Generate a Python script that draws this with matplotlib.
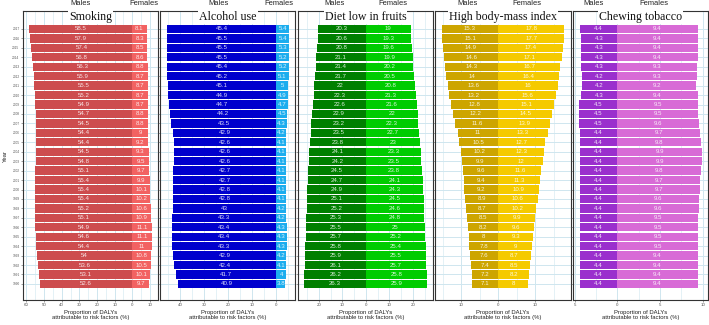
import numpy as np
import matplotlib
matplotlib.use('Agg')
import matplotlib.pyplot as plt

# ===== DATA (2017 -> 1990) =====
years = list(range(2017, 1989, -1))

panel_titles = ['Smoking', 'Alcohol use', 'Diet low in fruits',
                'High body-mass index', 'Chewing tobacco']

smoking_m = [58.5, 57.9, 57.4, 56.8, 56.3, 55.9, 55.5, 55.2, 54.9, 54.7,
             54.5, 54.4, 54.4, 54.5, 54.8, 55.1, 55.4, 55.4, 55.4, 55.2,
             55.1, 54.9, 54.6, 54.4, 54, 53.6, 53.1, 52.6]
smoking_f = [8.1, 8.3, 8.5, 8.6, 8.8, 8.7, 8.7, 8.7, 8.7, 8.8,
             8.8, 9, 9.2, 9.3, 9.5, 9.7, 9.9, 10.1, 10.2, 10.6,
             10.9, 11.1, 11.1, 11, 10.8, 10.5, 10.1, 9.7]

alcohol_m = [45.4, 45.5, 45.5, 45.5, 45.4, 45.2, 45.1, 44.9, 44.7, 44.2,
             43.5, 42.9, 42.6, 42.6, 42.6, 42.7, 42.7, 42.8, 42.8, 43,
             43.3, 43.4, 43.4, 43.3, 42.9, 42.4, 41.7, 40.9]
alcohol_f = [5.4, 5.4, 5.3, 5.2, 5.2, 5.1, 5, 4.9, 4.7, 4.5,
             4.3, 4.2, 4.1, 4.1, 4.1, 4.1, 4.1, 4.1, 4.1, 4.2,
             4.2, 4.3, 4.3, 4.3, 4.2, 4.1, 4, 3.8]

fruits_m = [20.3, 20.6, 20.8, 21.1, 21.4, 21.7, 22, 22.3, 22.6, 22.9,
            23.2, 23.5, 23.8, 24.1, 24.2, 24.5, 24.7, 24.9, 25.1, 25.2,
            25.3, 25.5, 25.7, 25.8, 25.9, 26.1, 26.2, 26.3]
fruits_f = [19, 19.3, 19.6, 19.9, 20.2, 20.5, 20.8, 21.3, 21.6, 22,
            22.3, 22.7, 23, 23.3, 23.5, 23.8, 24.1, 24.3, 24.5, 24.6,
            24.8, 25, 25.2, 25.4, 25.5, 25.7, 25.8, 25.9]

bmi_m = [15.3, 15.1, 14.9, 14.6, 14.3, 14, 13.6, 13.2, 12.8, 12.2,
         11.6, 11, 10.5, 10.2, 9.9, 9.6, 9.4, 9.2, 8.9, 8.7,
         8.5, 8.2, 8, 7.8, 7.6, 7.4, 7.2, 7.1]
bmi_f = [17.8, 17.7, 17.4, 17.1, 16.7, 16.4, 16, 15.6, 15.1, 14.5,
         13.9, 13.3, 12.7, 12.3, 12, 11.6, 11.3, 10.9, 10.6, 10.2,
         9.9, 9.6, 9.3, 9, 8.7, 8.5, 8.2, 8]

chewing_m = [4.4, 4.3, 4.3, 4.3, 4.3, 4.2, 4.2, 4.3, 4.5, 4.5,
             4.5, 4.4, 4.4, 4.4, 4.4, 4.4, 4.4, 4.4, 4.4, 4.4,
             4.4, 4.4, 4.4, 4.4, 4.4, 4.4, 4.4, 4.4]
chewing_f = [9.4, 9.4, 9.4, 9.4, 9.3, 9.3, 9.2, 9.4, 9.5, 9.5,
             9.6, 9.7, 9.8, 9.9, 9.9, 9.8, 9.7, 9.7, 9.6, 9.6,
             9.5, 9.5, 9.5, 9.5, 9.4, 9.4, 9.4, 9.4]

males = [smoking_m, alcohol_m, fruits_m, bmi_m, chewing_m]
females = [smoking_f, alcohol_f, fruits_f, bmi_f, chewing_f]

# ===== STYLE =====
male_cols = ['#CD4C4E', '#0000CD', '#007F00', '#CDA500', '#9A2FCD']
female_cols = ['#F26262', '#1CADEE', '#00CC00', '#F5CA00', '#D86BD6']
tick_steps = [10, 10, 10, 10, 5]
header_pos = [(0.425, 0.896), (0.43, 0.88), (0.27, 0.70),
              (0.235, 0.68), (0.15, 0.60)]

grid_col = '#CFE6EF'
plt.rcParams['font.family'] = ['Liberation Sans', 'DejaVu Sans']

fig, axes = plt.subplots(1, 5, figsize=(7.09, 3.25), dpi=100, sharey=True)
fig.subplots_adjust(left=0.0324, right=0.9986, bottom=0.077, top=0.966,
                    wspace=0.0185)

yrs = np.array(years)
for i, ax in enumerate(axes):
    m = np.array(males[i])
    f = np.array(females[i])
    lo, hi = -m.max(), f.max()
    pad = 0.05 * (hi - lo)
    ax.set_xlim(lo - pad, hi + pad)
    ax.set_ylim(1988.3, 2018.9)

    # ticks / grid
    step = tick_steps[i]
    major = np.arange(np.ceil((lo - pad) / step) * step, hi + pad, step)
    minor = np.arange(major[0] - step / 2, hi + pad, step)
    minor = minor[(minor > lo - pad) & (minor < hi + pad)]
    ax.set_xticks(major)
    ax.set_xticklabels([f'{abs(v):g}' for v in major])
    for v in minor:
        ax.axvline(v, color=grid_col, lw=0.4, zorder=0)
    for v in major:
        ax.axvline(v, color=grid_col, lw=0.7, zorder=0)
    for y in yrs:
        ax.axhline(y, color=grid_col, lw=0.7, zorder=0)

    # bars + labels
    ax.barh(yrs, -m, height=0.88, color=male_cols[i], zorder=2)
    ax.barh(yrs, f, height=0.88, color=female_cols[i], zorder=2)
    for y, mv, fv in zip(yrs, m, f):
        ax.text(-mv / 2, y, f'{mv:g}', ha='center', va='center',
                fontsize=4.4, color='white', alpha=0.85, zorder=3)
        ax.text(fv / 2, y, f'{fv:g}', ha='center', va='center',
                fontsize=4.4, color='white', alpha=0.85, zorder=3)

    # panel title inside the plot
    ax.text(sum(ax.get_xlim()) / 2, 2018.25, panel_titles[i],
            ha='center', va='center', family='Liberation Serif',
            fontsize=8.6, color='#111111', zorder=4,
            bbox=dict(facecolor='white', edgecolor='none', pad=0.6))

    mx, fx = header_pos[i]
    ax.text(mx, 1.013, 'Males', transform=ax.transAxes, ha='center',
            va='bottom', fontsize=5.4, color='#222222')
    ax.text(fx, 1.013, 'Females', transform=ax.transAxes, ha='center',
            va='bottom', fontsize=5.4, color='#222222')

    ax.set_xlabel('Proportion of DALYs\nattributable to risk factors (%)',
                  fontsize=4.2, color='#222222', labelpad=1.5,
                  linespacing=1.1)
    for s in ax.spines.values():
        s.set_color('#333333')
        s.set_linewidth(0.8)
    ax.tick_params(axis='x', labelsize=3.2, colors='#555555', length=1.5,
                   width=0.4, pad=1)
    ax.tick_params(axis='y', labelsize=2.3, colors='#555555', length=1.5,
                   width=0.4, pad=1)

axes[0].set_yticks(yrs)
axes[0].set_yticklabels([str(y) for y in yrs])
fig.text(0.007, 0.52, 'Year', rotation=90, ha='center', va='center',
         fontsize=4.2, color='#222222')

plt.savefig('out.png', dpi=100)
